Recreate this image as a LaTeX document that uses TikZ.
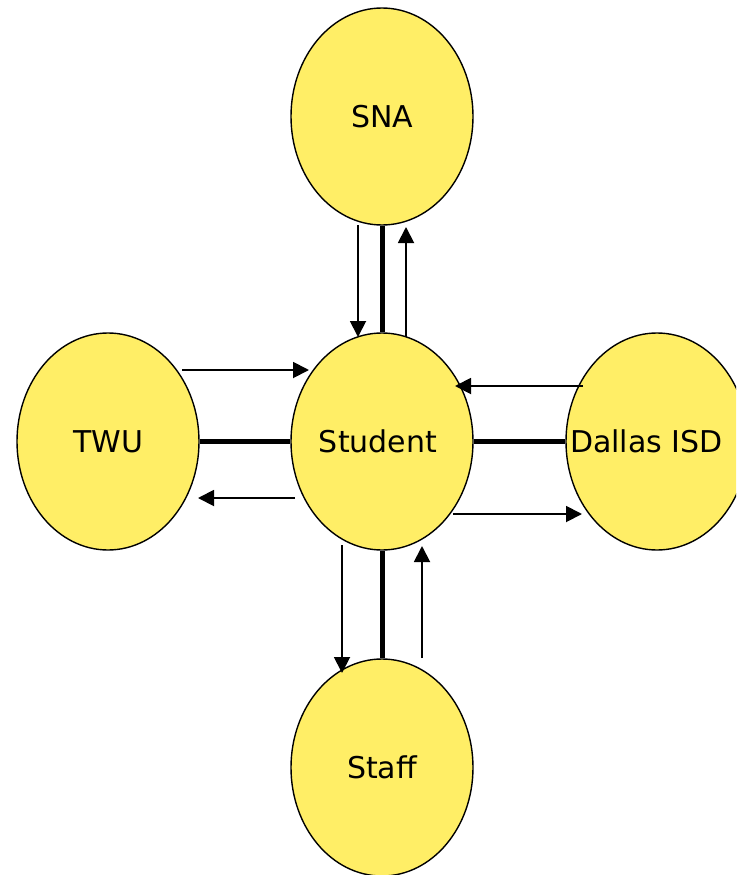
\documentclass[tikz,border=0pt]{standalone}
\usepackage{fontspec}
\setmainfont{DejaVu Sans}
\usetikzlibrary{arrows.meta,calc,shapes.geometric}
\definecolor{bubble}{HTML}{FFEE66}
\begin{document}
\begin{tikzpicture}[x=1pt,y=-1pt,
  bubble/.style={ellipse,draw=black,line width=1.4pt,fill=bubble,minimum width=182pt,minimum height=217pt,inner sep=0pt,font=\fontsize{30}{33}\selectfont},
  link/.style={line width=5pt},
  flow/.style={line width=1.9pt,-{Triangle[length=16pt,width=16pt]}}]
\useasboundingbox (0,0) rectangle (736,875);
\clip (0,0) rectangle (736,875);
\node[bubble] (sna) at (382,116.5) {SNA};
\node[bubble] (student) at (382,441.5) {\makebox[0pt]{\hspace*{-8pt}Student}};
\node[bubble] (twu) at (108,441.5) {TWU};
\node[bubble] (dallas) at (657,441.5) {\makebox[0pt][l]{\hspace*{-87pt}Dallas ISD}};
\node[bubble] (staff) at (382,767.5) {Staff};
% thick links
\draw[link] (sna.south) -- (student.north);
\draw[link] (student.south) -- (staff.north);
\draw[link] (twu.east) -- (student.west);
\draw[link] (student.east) -- (dallas.west);
% arrow ends
\coordinate (a1) at (358,225); \coordinate (b1) at (358,337);
\coordinate (a2) at (406,337); \coordinate (b2) at (406,227);
\coordinate (a3) at (182,370); \coordinate (b3) at (309,370);
\coordinate (a4) at (295,498); \coordinate (b4) at (198,498);
\coordinate (a5) at (583,386); \coordinate (b5) at (455,386);
\coordinate (a6) at (453,514); \coordinate (b6) at (582,514);
\coordinate (a7) at (342,545); \coordinate (b7) at (342,673);
\coordinate (a8) at (422,658); \coordinate (b8) at (422,546);
\draw[flow] (a1) -- (b1);
\draw[flow] (a2) -- (b2);
\draw[flow] (a3) -- (b3);
\draw[flow] (a4) -- (b4);
\draw[flow] (a5) -- (b5);
\draw[flow] (a6) -- (b6);
\draw[flow] (a7) -- (b7);
\draw[flow] (a8) -- (b8);
\end{tikzpicture}
\end{document}
